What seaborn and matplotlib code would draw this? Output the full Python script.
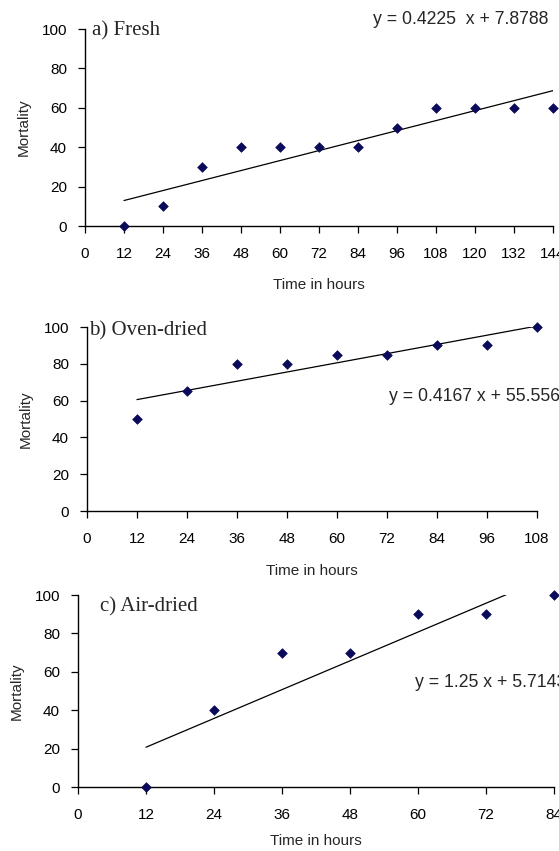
import numpy as np
import pandas as pd
import seaborn as sns
import matplotlib.pyplot as plt

# data (hours vs % mortality)
hours_fresh = [12, 24, 36, 48, 60, 72, 84, 96, 108, 120, 132, 144]
mortality_fresh = [0, 10, 30, 40, 40, 40, 40, 50, 60, 60, 60, 60]

hours_oven = [12, 24, 36, 48, 60, 72, 84, 96, 108]
mortality_oven = [50, 65, 80, 80, 85, 85, 90, 90, 100]

hours_air = [12, 24, 36, 48, 60, 72, 84]
mortality_air = [0, 40, 70, 70, 90, 90, 100]

panel_titles = ["a) Fresh", "b) Oven-dried", "c) Air-dried"]
equations = [
    "y = 0.4225  x + 7.8788",
    "y = 0.4167 x + 55.556",
    "y = 1.25 x + 5.7143",
]

MARKER_COLOR = "#0a0a5a"

# layout: axes rect, title position (data), equation position (data), xlabel pad
PANELS = [
    dict(x=hours_fresh, y=mortality_fresh, rect=[0.1521, 0.7344, 0.8372, 0.2315],
         xmax=144, title_xy=(2.2, 99), eq_xy=(88.6, 104.6), xpad=12),
    dict(x=hours_oven, y=mortality_oven, rect=[0.1556, 0.3995, 0.8050, 0.2162],
         xmax=108, title_xy=(0.4, 97.8), eq_xy=(72.5, 62.5), xpad=13),
    dict(x=hours_air, y=mortality_air, rect=[0.1395, 0.0752, 0.8515, 0.2256],
         xmax=84, title_xy=(3.9, 93.7), eq_xy=(59.5, 54.5), xpad=9),
]


def draw_panel(fig, panel, title, equation):
    ax = fig.add_axes(panel["rect"])
    df = pd.DataFrame({"hours": panel["x"], "mortality": panel["y"]})

    # linear trend line (same as the printed equation)
    slope, intercept = np.polyfit(df["hours"], df["mortality"], 1)
    fit_x = np.array([df["hours"].min(), df["hours"].max()])
    sns.lineplot(x=fit_x, y=slope * fit_x + intercept, ax=ax,
                 color="black", linewidth=0.9)

    sns.scatterplot(data=df, x="hours", y="mortality", ax=ax, marker="D",
                    color=MARKER_COLOR, edgecolor=MARKER_COLOR, s=24,
                    linewidth=0.5, clip_on=False, zorder=3)

    ax.set_xlim(0, panel["xmax"])
    ax.set_ylim(0, 100)
    ax.set_xticks(range(0, panel["xmax"] + 1, 12))
    ax.set_yticks(range(0, 101, 20))
    ax.tick_params(direction="out", length=5, width=0.9, pad=8,
                   labelsize=11, colors="black")
    ax.tick_params(axis="x", pad=10)
    for side in ["left", "bottom"]:
        ax.spines[side].set_linewidth(1.0)
        ax.spines[side].set_color("black")
    sns.despine(ax=ax)

    ax.set_xlabel("Time in hours", fontsize=11, labelpad=panel["xpad"])
    ax.set_ylabel("Mortality", fontsize=11, labelpad=8)

    ax.text(*panel["title_xy"], title, fontsize=15, va="center", ha="left",
            family=["Liberation Serif", "DejaVu Serif"])
    ax.text(*panel["eq_xy"], equation, fontsize=12.7, va="center", ha="left",
            clip_on=False)
    return ax


def main():
    sns.set_style("ticks")
    plt.rcParams["font.family"] = ["Liberation Sans", "DejaVu Sans"]

    fig = plt.figure(figsize=(5.59, 8.51), dpi=100)
    for panel, title, equation in zip(PANELS, panel_titles, equations):
        draw_panel(fig, panel, title, equation)

    fig.savefig("out.png", dpi=100, facecolor="white")
    plt.close(fig)


if __name__ == "__main__":
    main()
